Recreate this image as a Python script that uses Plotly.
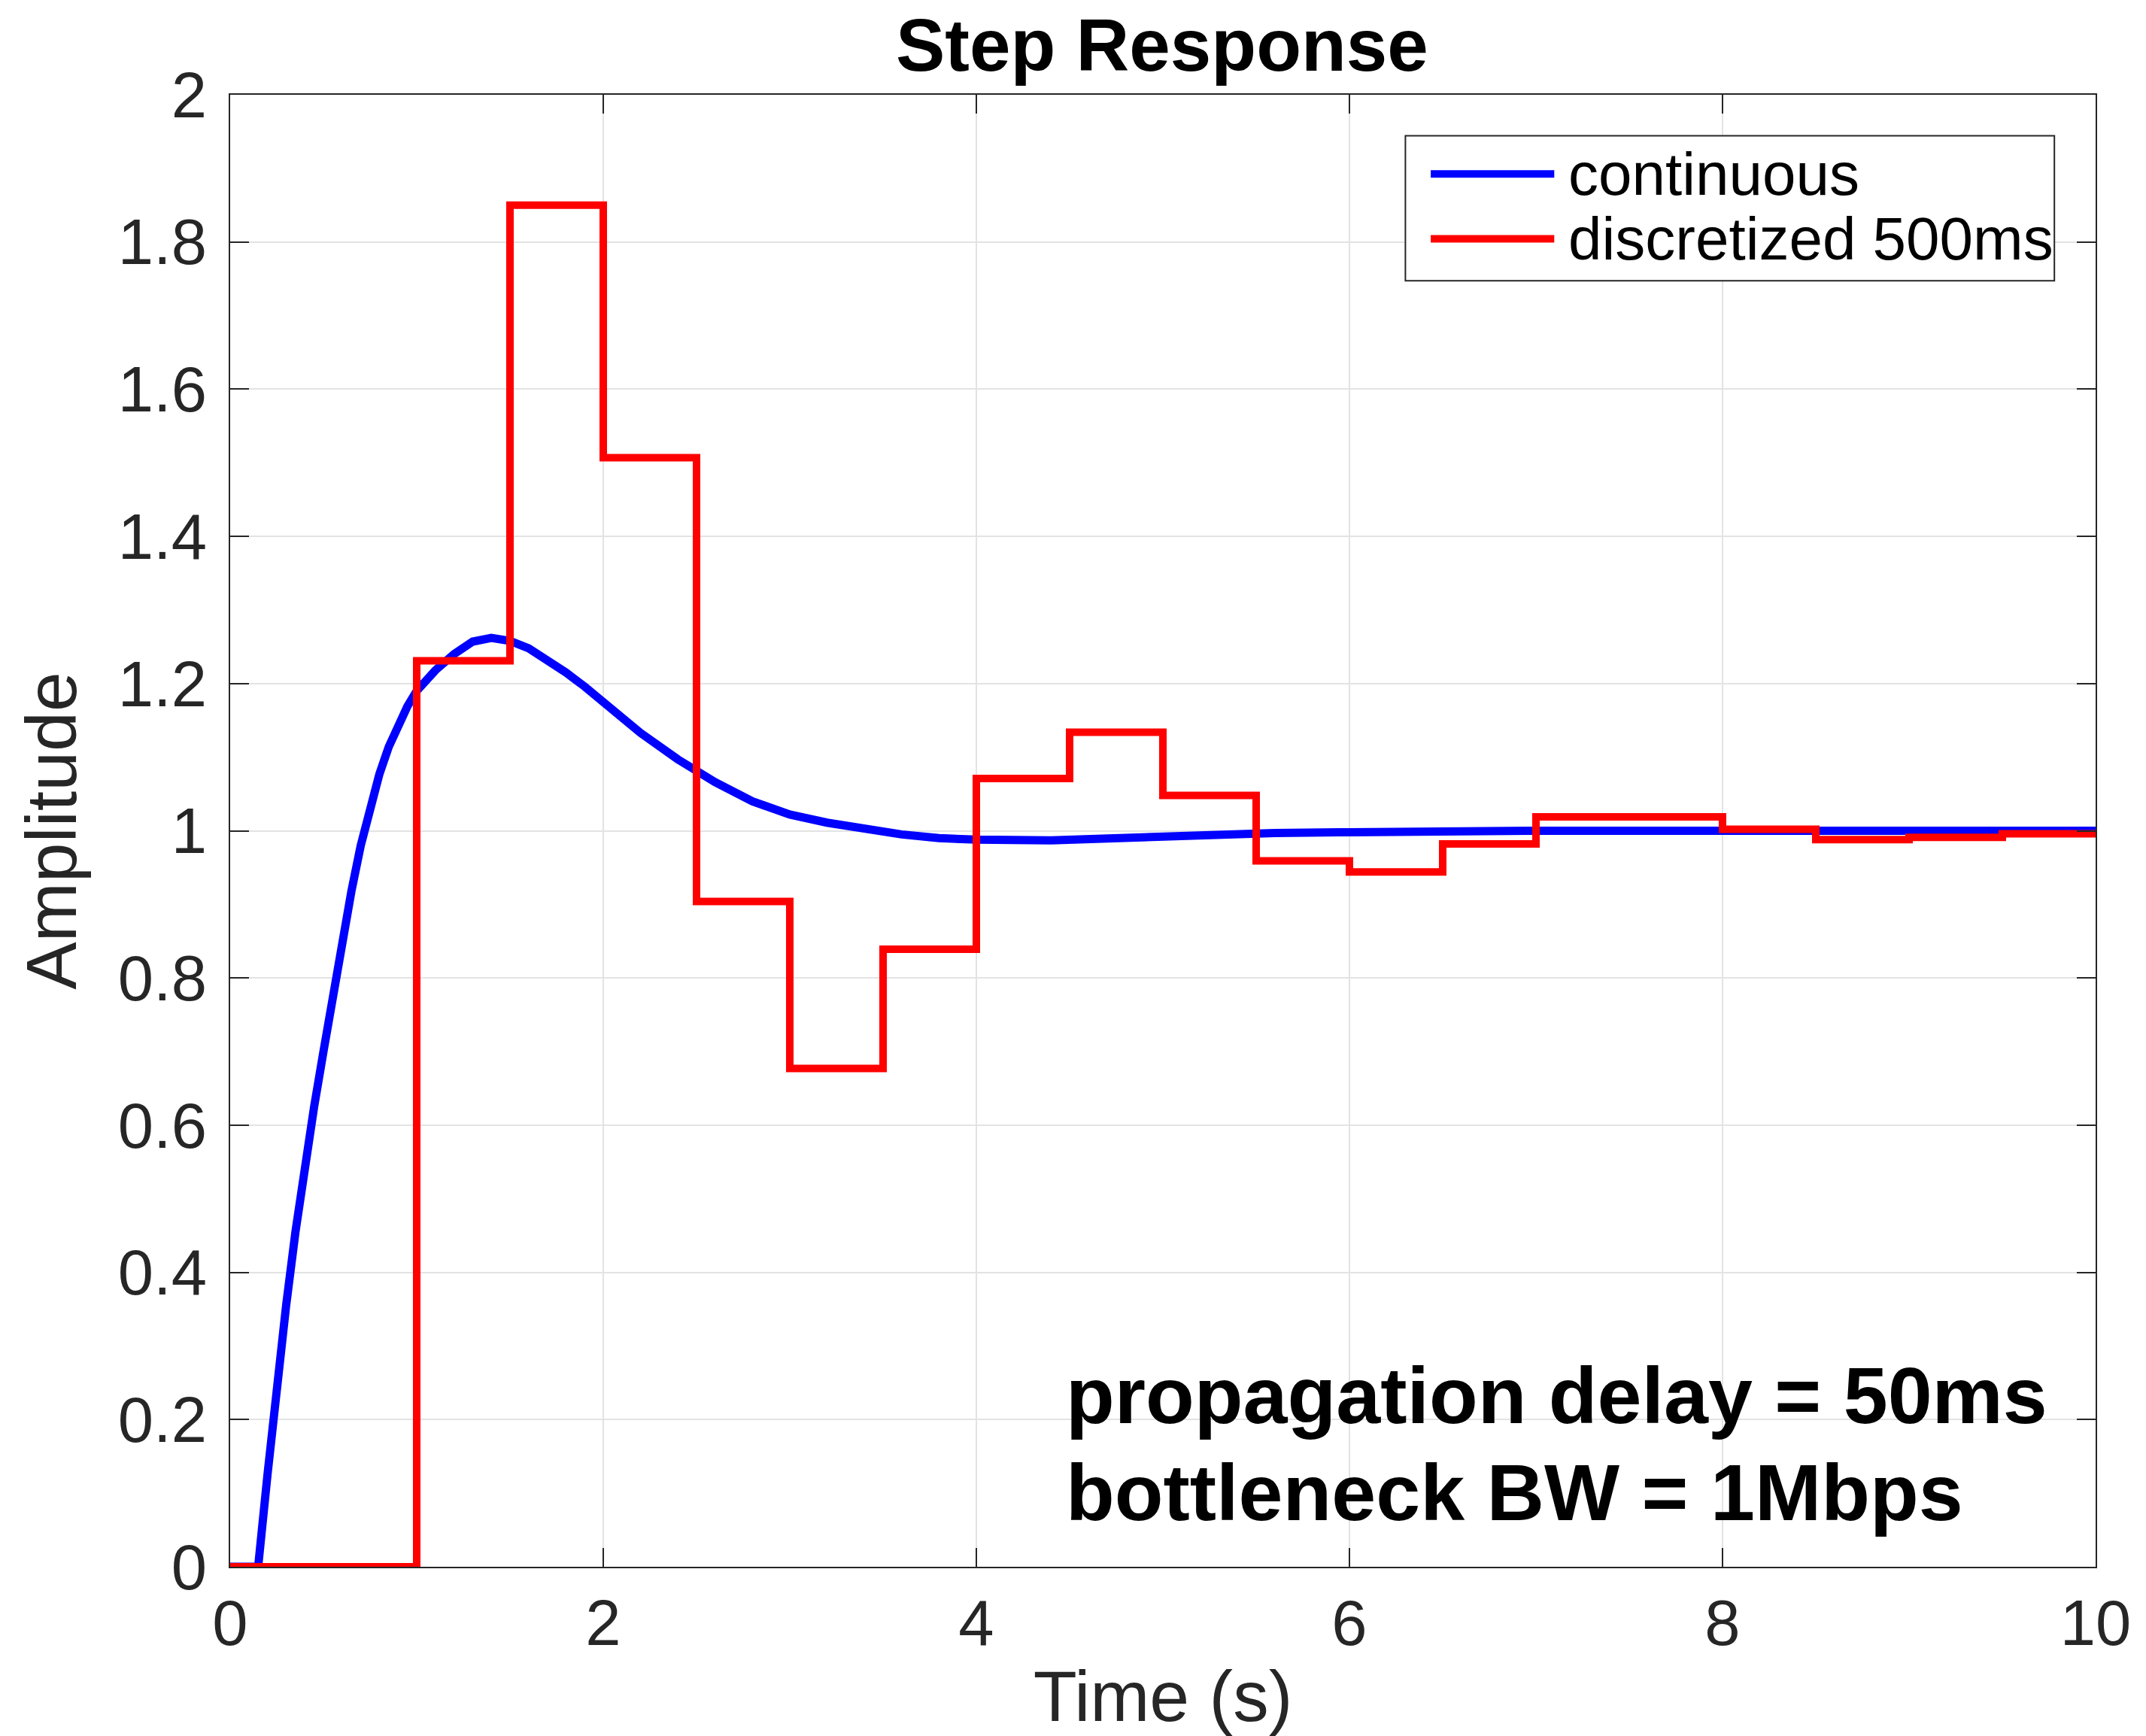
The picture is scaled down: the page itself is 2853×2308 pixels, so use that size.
import plotly.graph_objects as go

# ---- data ----
t_cont = [0.0, 0.15, 0.20, 0.25, 0.30, 0.35, 0.40, 0.45, 0.50, 0.55, 0.60, 0.65, 0.70,
          0.75, 0.80, 0.85, 0.90, 0.95, 1.00, 1.10, 1.20, 1.30, 1.40, 1.50, 1.60, 1.70,
          1.80, 1.90, 2.00, 2.20, 2.40, 2.60, 2.80, 3.00, 3.20, 3.40, 3.60, 3.80, 4.00,
          4.40, 4.80, 5.20, 5.60, 6.00, 6.60, 7.00, 8.00, 9.00, 10.00]
y_cont = [0.0, 0.0, 0.125, 0.245, 0.355, 0.455, 0.545, 0.625, 0.700, 0.775, 0.848, 0.918, 0.980,
          1.033, 1.077, 1.114, 1.144, 1.169, 1.190, 1.218, 1.240, 1.257, 1.262, 1.258, 1.248, 1.232,
          1.215, 1.196, 1.175, 1.133, 1.097, 1.066, 1.040, 1.022, 1.011, 1.002, 0.995, 0.990, 0.988,
          0.987, 0.991, 0.995, 0.997, 0.998, 1.0, 1.0, 1.0, 1.0, 1.0]

t_disc = [0.0, 0.5, 1.0, 1.5, 2.0, 2.5, 3.0, 3.5, 4.0, 4.5, 5.0, 5.5, 6.0, 6.5, 7.0,
          7.5, 8.0, 8.5, 9.0, 9.5, 10.0]
y_disc = [0.0, 0.0, 1.231, 1.850, 1.507, 0.904, 0.677, 0.839, 1.071, 1.134, 1.048, 0.959,
          0.944, 0.982, 1.019, 1.019, 1.002, 0.988, 0.991, 0.996, 0.996]

series_names = ["continuous", "discretized 500ms"]
series_colors = ["#0000ff", "#ff0000"]

x_ticks = [0, 2, 4, 6, 8, 10]
y_ticks = [0, 0.2, 0.4, 0.6, 0.8, 1, 1.2, 1.4, 1.6, 1.8, 2]
y_tick_text = ["0", "0.2", "0.4", "0.6", "0.8", "1", "1.2", "1.4", "1.6", "1.8", "2"]

FONT = "Liberation Sans, Arial, Helvetica, sans-serif"
AX = "#262626"

fig = go.Figure()
fig.add_trace(go.Scatter(x=t_cont, y=y_cont, mode="lines", name=series_names[0],
                         showlegend=False,
                         line=dict(color=series_colors[0], width=11)))
fig.add_trace(go.Scatter(x=t_disc, y=y_disc, mode="lines", name=series_names[1],
                         showlegend=False,
                         line=dict(color=series_colors[1], width=10, shape="hv")))

W, H = 2853, 2308
L, R, T, B = 306, 67, 126, 225

fig.update_layout(
    width=W, height=H,
    margin=dict(l=L, r=R, t=T, b=B, autoexpand=False),
    paper_bgcolor="white", plot_bgcolor="white",
    font=dict(family=FONT, color=AX),
    title=dict(text="<b>Step Response</b>", x=0.5415, xanchor="center",
               y=1 - 60 / H, yanchor="middle", yref="container",
               font=dict(size=98, color="black", family=FONT)),
    showlegend=False,
)

axis_common = dict(
    showline=True, linecolor=AX, linewidth=2, mirror="ticks",
    ticks="inside", ticklen=25, tickwidth=2, tickcolor=AX,
    showgrid=True, gridcolor="#e3e3e3", gridwidth=2,
    zeroline=False, tickfont=dict(size=85, color=AX, family=FONT),
)

fig.update_xaxes(range=[0, 10], tickvals=x_ticks, ticktext=[str(v) for v in x_ticks],
                 title=dict(text="Time (s)", font=dict(size=95, color=AX, family=FONT), standoff=33),
                 ticklabelstandoff=0, **axis_common)
fig.update_yaxes(range=[0, 2], tickvals=y_ticks, ticktext=y_tick_text,
                 title=dict(text="Amplitude", font=dict(size=95, color=AX, family=FONT), standoff=24),
                 ticklabelstandoff=12, **axis_common)

# ---- legend box (drawn manually to match MATLAB's legend layout) ----
fig.add_shape(type="rect", xref="paper", yref="paper", x0=0.630, x1=0.9779, y0=0.8736, y1=0.9722,
              line=dict(color=AX, width=2), fillcolor="white", layer="above")
legend_rows_y = [0.9462, 0.9022]
for name, color, yy in zip(series_names, series_colors, legend_rows_y):
    fig.add_shape(type="line", xref="paper", yref="paper", x0=0.6436, x1=0.7098, y0=yy, y1=yy,
                  line=dict(color=color, width=10), layer="above")
    fig.add_annotation(text=name, xref="paper", yref="paper", x=0.7166, y=yy,
                       xanchor="left", yanchor="middle", showarrow=False,
                       font=dict(size=80, color="black", family=FONT))

fig.add_annotation(text="<b>propagation delay = 50ms</b>", xref="paper", yref="paper",
                   x=0.447, y=0.1167, xanchor="left", yanchor="middle", showarrow=False,
                   font=dict(size=106, color="black", family=FONT))
fig.add_annotation(text="<b>bottleneck BW = 1Mbps</b>", xref="paper", yref="paper",
                   x=0.447, y=0.0505, xanchor="left", yanchor="middle", showarrow=False,
                   font=dict(size=106, color="black", family=FONT))

fig.write_html("out.html")
